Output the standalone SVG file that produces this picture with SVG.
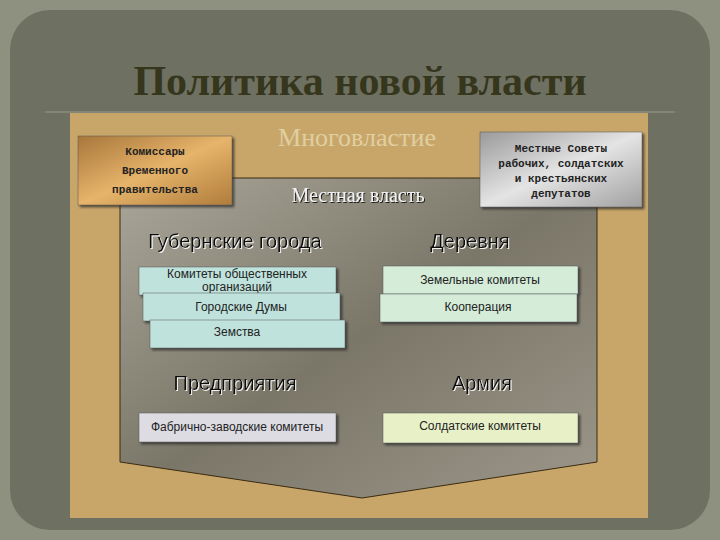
<svg xmlns="http://www.w3.org/2000/svg" width="720" height="540" viewBox="0 0 720 540">
<defs>
<linearGradient id="gold" x1="0" y1="0" x2="1" y2="1"><stop offset="0" stop-color="#a8763a"/><stop offset="0.5" stop-color="#e6b46a"/><stop offset="1" stop-color="#b07c3c"/></linearGradient>
<linearGradient id="silver" x1="0" y1="0" x2="1" y2="1"><stop offset="0" stop-color="#9a9a9a"/><stop offset="0.5" stop-color="#e4e4e4"/><stop offset="1" stop-color="#a0a0a0"/></linearGradient>
<linearGradient id="pent" x1="0" y1="0" x2="1" y2="1"><stop offset="0" stop-color="#aaa79a"/><stop offset="0.5" stop-color="#7a7668"/><stop offset="1" stop-color="#9c978a"/></linearGradient>
<filter id="sh" x="-10%" y="-10%" width="130%" height="140%"><feDropShadow dx="2" dy="2" stdDeviation="1" flood-color="#222" flood-opacity="0.7"/></filter>
<filter id="ws" x="-10%" y="-20%" width="120%" height="150%"><feDropShadow dx="1" dy="1" stdDeviation="0.3" flood-color="#fff" flood-opacity="0.9"/></filter>
<filter id="ds" x="-10%" y="-20%" width="120%" height="150%"><feDropShadow dx="1" dy="1" stdDeviation="0.3" flood-color="#111" flood-opacity="0.9"/></filter>
</defs>
<style>
.h{font-family:"Liberation Sans",Arial,sans-serif;font-size:20px;fill:#111;text-anchor:middle;filter:url(#ws)}
.b{font-family:"Liberation Sans",Arial,sans-serif;font-size:12px;fill:#222;text-anchor:middle}
.m{font-family:"Liberation Mono","Courier New",monospace;font-size:11px;font-weight:bold;fill:#222;text-anchor:middle}
.bx{stroke:#555;stroke-width:0.5;filter:url(#sh)}
</style>
<rect width="720" height="540" fill="#8e9080"/>
<rect x="10" y="10" width="700" height="520" rx="40" fill="#6e7062"/>
<text x="360" y="95" font-family="'Liberation Serif','DejaVu Serif',serif" font-size="42" font-weight="bold" fill="#35361c" text-anchor="middle">Политика новой власти</text>
<line x1="45" y1="112" x2="675" y2="112" stroke="#9a9a86" stroke-width="1"/>
<rect x="70" y="113" width="578" height="405" fill="#c8a66a"/>
<polygon points="120,178 597,178 597,462 362,498 120,462" fill="url(#pent)" stroke="#3a2a10" stroke-width="1"/>
<text x="357" y="146" font-family="'Liberation Serif',serif" font-size="26" fill="#e0cfa0" text-anchor="middle">Многовластие</text>
<text x="358" y="202" font-family="'Liberation Serif',serif" font-size="20" fill="#f2f2f2" filter="url(#ds)" text-anchor="middle">Местная власть</text>
<g id="komissary"><rect class="bx" x="78" y="136" width="154" height="69" fill="url(#gold)"/>
<text class="m" x="155" y="155">Комиссары</text><text class="m" x="155" y="174">Временного</text><text class="m" x="155" y="193">правительства</text></g>
<g id="sovety"><rect class="bx" x="480" y="132" width="162" height="75" fill="url(#silver)"/>
<text class="m" x="561" y="152">Местные Советы</text><text class="m" x="561" y="167">рабочих, солдатских</text><text class="m" x="561" y="182">и крестьянских</text><text class="m" x="561" y="197">депутатов</text></g>
<text class="h" x="235" y="248">Губернские города</text>
<text class="h" x="470" y="248">Деревня</text>
<text class="h" x="235" y="390">Предприятия</text>
<text class="h" x="482" y="390">Армия</text>
<g id="komitety-org"><rect class="bx" x="139" y="267" width="197" height="28" fill="#bfe3dc"/><text class="b" x="237" y="278" font-size="10.5">Комитеты общественных</text><text class="b" x="237" y="291" font-size="10.5">организаций</text></g>
<g id="dumy"><rect class="bx" x="143" y="293" width="197" height="28" fill="#bfe3dc"/><text class="b" x="241" y="311">Городские Думы</text></g>
<g id="zemstva"><rect class="bx" x="150" y="320" width="195" height="28" fill="#bfe3dc"/><text class="b" x="237" y="336">Земства</text></g>
<g id="zemelnye"><rect class="bx" x="383" y="266" width="195" height="28" fill="#d4ecd8"/><text class="b" x="480" y="284">Земельные комитеты</text></g>
<g id="kooperaciya"><rect class="bx" x="380" y="294" width="197" height="28" fill="#d4ecd8"/><text class="b" x="478" y="311">Кооперация</text></g>
<g id="fabrichno"><rect class="bx" x="139" y="413" width="197" height="29" fill="#dcdce2"/><text class="b" x="237" y="431">Фабрично-заводские комитеты</text></g>
<g id="soldatskie"><rect class="bx" x="383" y="413" width="195" height="30" fill="#e8f0c8"/><text class="b" x="480" y="430">Солдатские комитеты</text></g>
<g id="connectors"/>
</svg>
